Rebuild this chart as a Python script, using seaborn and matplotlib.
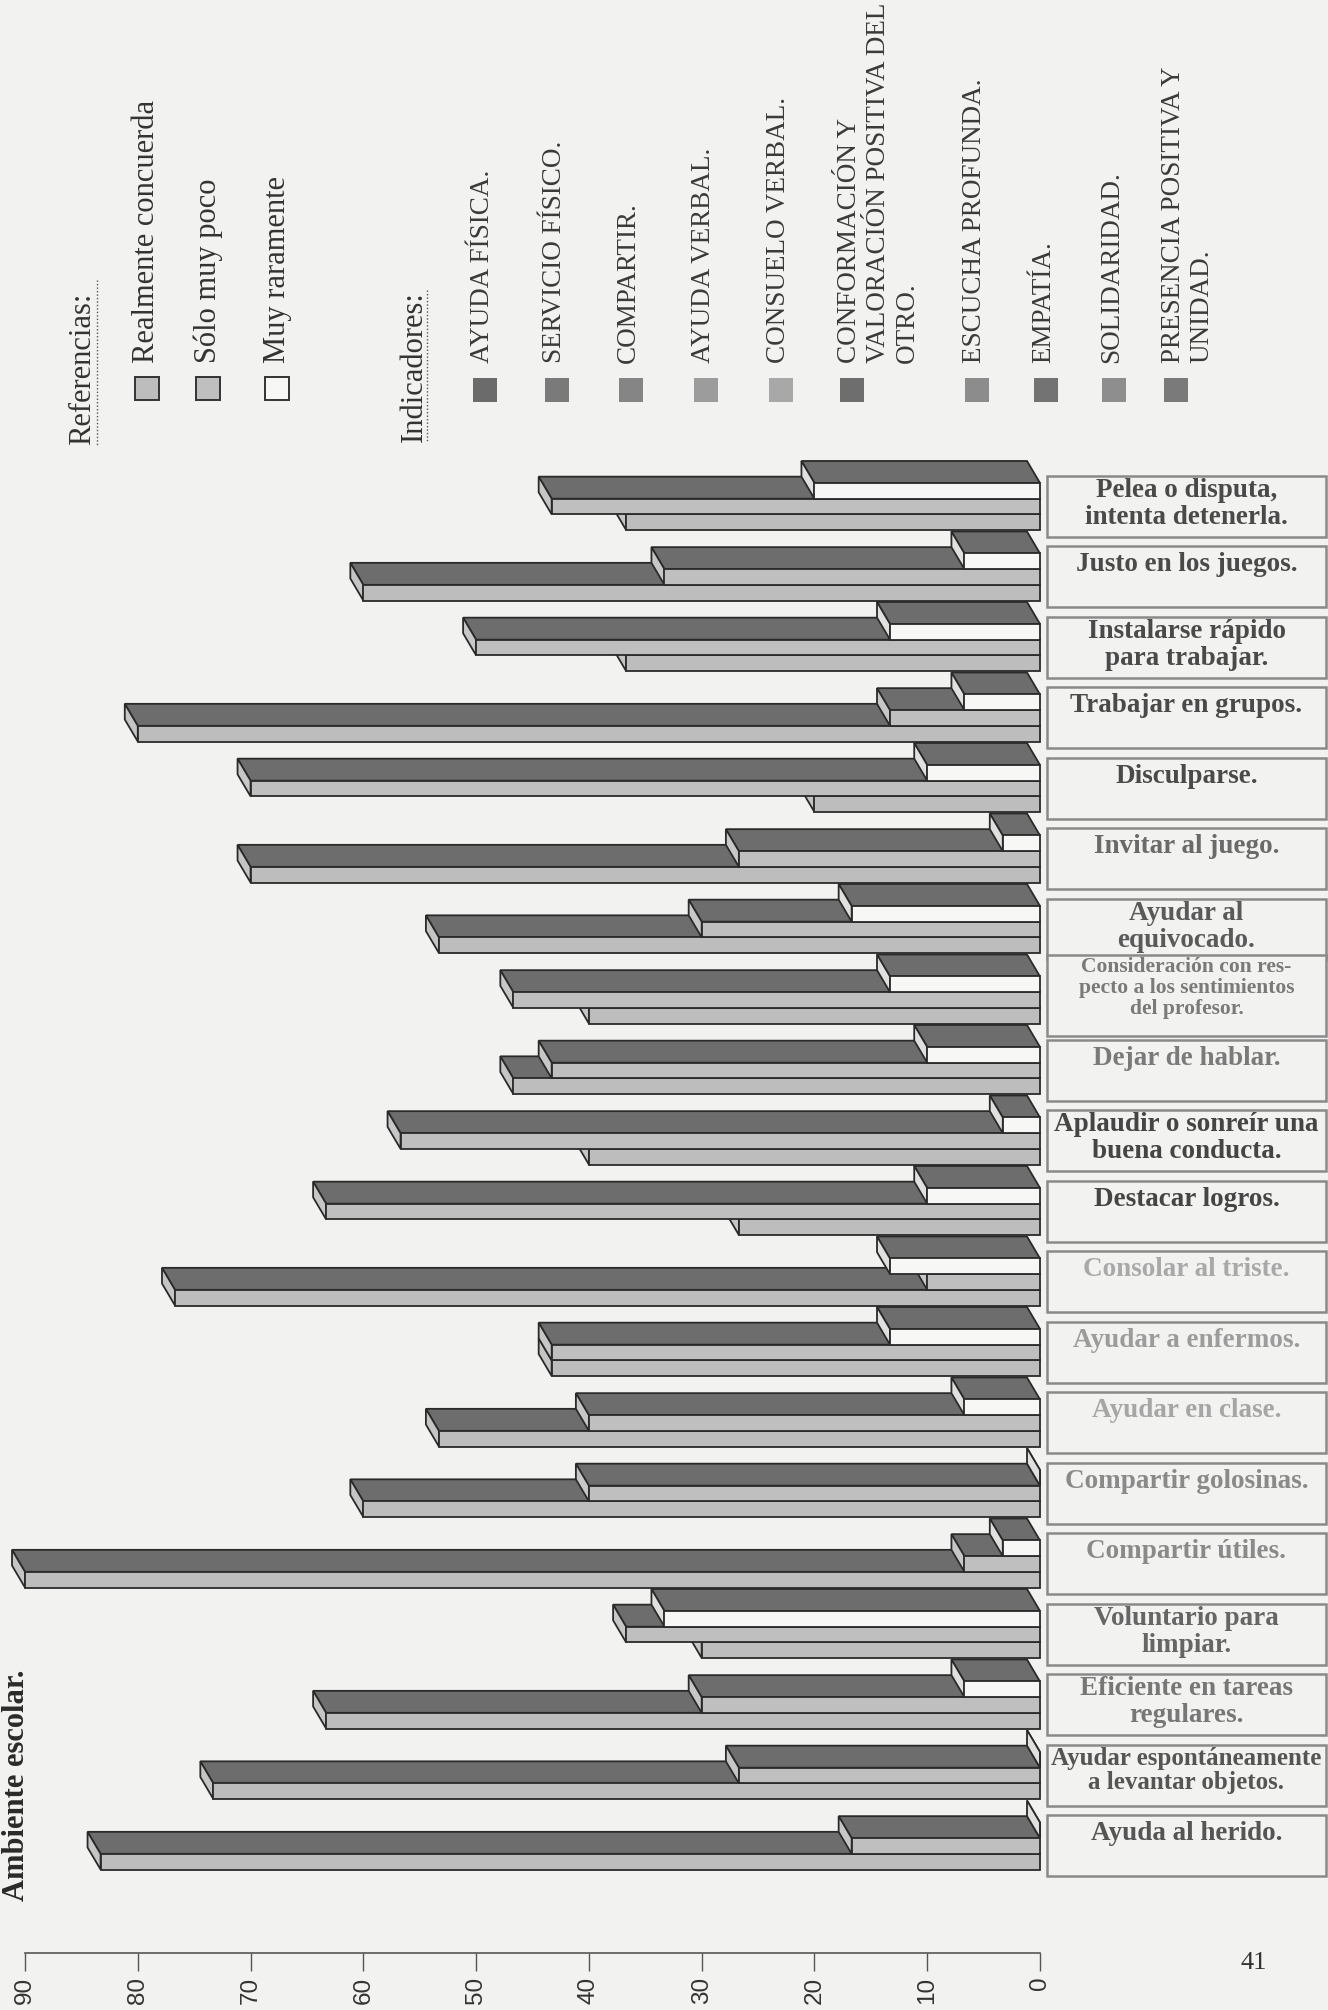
import numpy as np
import pandas as pd
import matplotlib
matplotlib.use("Agg")
import matplotlib.pyplot as plt
import seaborn as sns
from matplotlib.patches import Polygon, Rectangle
from matplotlib.lines import Line2D
import matplotlib.colors as mcolors

# ---------------- data ----------------
categorias = [
    "Pelea o disputa,\nintenta detenerla.",
    "Justo en los juegos.",
    "Instalarse rápido\npara trabajar.",
    "Trabajar en grupos.",
    "Disculparse.",
    "Invitar al juego.",
    "Ayudar al\nequivocado.",
    "Consideración con res-\npecto a los sentimientos\ndel profesor.",
    "Dejar de hablar.",
    "Aplaudir o sonreír una\nbuena conducta.",
    "Destacar logros.",
    "Consolar al triste.",
    "Ayudar a enfermos.",
    "Ayudar en clase.",
    "Compartir golosinas.",
    "Compartir útiles.",
    "Voluntario para\nlimpiar.",
    "Eficiente en tareas\nregulares.",
    "Ayudar espontáneamente\na levantar objetos.",
    "Ayuda al herido.",
]
muy_raramente = [20, 6.7, 13.3, 6.7, 10, 3.3, 16.7, 13.3, 10, 3.3,
                 10, 13.3, 13.3, 6.7, 0, 3.3, 33.3, 6.7, 0, 0]
solo_muy_poco = [43.3, 33.3, 50, 13.3, 70, 26.7, 30, 46.7, 43.3, 56.7,
                 63.3, 10, 43.3, 40, 40, 6.7, 36.7, 30, 26.7, 16.7]
realmente_concuerda = [36.7, 60, 36.7, 80, 20, 70, 53.3, 40, 46.7, 40,
                       26.7, 76.7, 43.3, 53.3, 60, 90, 30, 63.3, 73.3, 83.3]
series = ["Muy raramente", "Sólo muy poco", "Realmente concuerda"]
referencias = ["Realmente concuerda", "Sólo muy poco", "Muy raramente"]
indicadores = [
    "AYUDA FÍSICA.", "SERVICIO FÍSICO.", "COMPARTIR.", "AYUDA VERBAL.",
    "CONSUELO VERBAL.", "CONFORMACIÓN Y\nVALORACIÓN POSITIVA DEL\nOTRO.",
    "ESCUCHA PROFUNDA.", "EMPATÍA.", "SOLIDARIDAD.", "PRESENCIA POSITIVA Y\nUNIDAD.",
]
valores_eje = [0, 10, 20, 30, 40, 50, 60, 70, 80, 90]
titulo = "Ambiente escolar."
pagina = "41"

# ---------------- styles ----------------
color_texto_cat = ["#4a4a4a", "#4a4a4a", "#4a4a4a", "#4a4a4a", "#4a4a4a", "#6a6a6a",
                   "#5a5a5a", "#7a7a7a", "#7a7a7a", "#454545", "#454545", "#a9a9a9",
                   "#9c9c9c", "#a6a6a6", "#8a8a8a", "#8a8a8a", "#666666", "#777777",
                   "#555555", "#555555"]
color_indicador = ["#6b6b6b", "#7a7a7a", "#858585", "#9c9c9c", "#a8a8a8",
                   "#6e6e6e", "#8c8c8c", "#737373", "#8e8e8e", "#7a7a7a"]
color_ref = {"Realmente concuerda": "#bdbdbd", "Sólo muy poco": "#bfbfbf",
             "Muy raramente": "#f7f7f5"}

sns.set_style("white")
plt.rcParams['font.family'] = ['Liberation Serif', 'DejaVu Serif']

W, H = 1328, 2010
BG = "#f2f2f0"
fig = plt.figure(figsize=(W / 100, H / 100), dpi=100)
fig.patch.set_facecolor(BG)

# main axes: value 90 at x=25px, value 0 at x=1040px; axis line at y=1953px
ax_top_px, ax_bot_px = 440, 1953
ax = fig.add_axes([25 / W, (H - ax_bot_px) / H, 1015 / W, (ax_bot_px - ax_top_px) / H])
ax.set_facecolor("none")

df = pd.DataFrame({
    "categoria": categorias * 3,
    "serie": np.repeat(series, len(categorias)),
    "valor": muy_raramente + solo_muy_poco + realmente_concuerda,
})
WIDTH = 0.667
sns.barplot(data=df, y="categoria", x="valor", hue="serie", hue_order=series,
            order=categorias, palette=color_ref, orient="h", width=WIDTH,
            dodge=True, edgecolor="#2a2a2a", linewidth=1.3, legend=False,
            errorbar=None, saturation=1, ax=ax)

ax.set_xlim(90, 0)
cat_px = 70.5
y0_px = 506.5
ax.set_ylim((ax_bot_px - y0_px) / cat_px, (ax_top_px - y0_px) / cat_px)

# 3D depth (in data units)
dx = 13 / (1015 / 90)
dy = 22 / cat_px
TOP_COL = "#6d6d6d"

bars = list(ax.patches)
bars_sorted = sorted(bars, key=lambda p: -(p.get_y() + p.get_height() / 2))
for k, p in enumerate(bars_sorted):
    x0, w, yt, h = p.get_x(), p.get_width(), p.get_y(), p.get_height()
    v = x0 + w
    yb = yt + h
    fc = np.array(mcolors.to_rgb(p.get_facecolor()))
    side = tuple(np.clip(fc * 1.04, 0, 1)) if fc.mean() < 0.9 else (0.88, 0.88, 0.87)
    base = 3 + 3 * k
    top = Polygon([(x0, yt), (v, yt), (v + dx, yt - dy), (x0 + dx, yt - dy)],
                  closed=True, facecolor=TOP_COL, edgecolor="#2a2a2a", linewidth=1.3,
                  zorder=base, clip_on=False)
    sideface = Polygon([(v, yt), (v + dx, yt - dy), (v + dx, yb - dy), (v, yb)],
                       closed=True, facecolor=side, edgecolor="#2a2a2a", linewidth=1.3,
                       zorder=base + 1, clip_on=False)
    ax.add_patch(top)
    ax.add_patch(sideface)
    p.set_zorder(base + 2)
    p.set_clip_on(False)

for s in ["top", "right", "left"]:
    ax.spines[s].set_visible(False)
ax.spines["bottom"].set_color("#555555")
ax.spines["bottom"].set_linewidth(1.2)
ax.set_yticks([])
ax.set_xticks(valores_eje)
ax.set_xticklabels([str(v) for v in valores_eje])
ax.tick_params(axis="x", bottom=True, direction="out", length=13, width=1.0,
               color="#555555", labelsize=17.5, labelrotation=90, pad=4,
               labelcolor="#333333")
for lbl in ax.get_xticklabels():
    lbl.set_fontfamily(["Liberation Sans", "DejaVu Sans"])
ax.set_xlabel("")
ax.set_ylabel("")

# ---------------- overlay in pixel coordinates ----------------
ov = fig.add_axes([0, 0, 1, 1])
ov.set_xlim(0, W)
ov.set_ylim(H, 0)
ov.axis("off")
ov.set_facecolor("none")
renderer = fig.canvas.get_renderer()

def px_from_data_y(yd):
    return H - ax.transData.transform((0, yd))[1]

for i, (lab, col) in enumerate(zip(categorias, color_texto_cat)):
    ft = px_from_data_y(i - WIDTH / 2)
    nlines = lab.count("\n") + 1
    if nlines >= 3:
        btop, bh, fs, off, ls = ft - 21, 81, 15.5, 2, 1.05
    elif nlines == 2:
        btop, bh, fs, off, ls = ft - 7, 61, 19.5, 2, 1.08
    else:
        btop, bh, fs, off, ls = ft - 7, 61, 19.5, 6, 1.08
    ov.add_patch(Rectangle((1047, btop), 279, bh, facecolor=BG, edgecolor="#8a8a8a",
                           linewidth=1.8, zorder=2))
    t = ov.text(1186.5, btop + off, lab, ha="center", va="top", fontsize=fs,
                fontweight="bold", color=col, linespacing=ls, zorder=3)
    while t.get_window_extent(renderer).width > 272 and fs > 8:
        fs -= 0.25
        t.set_fontsize(fs)

# legend: Referencias
ov.text(83, 445, "Referencias:", rotation=90, ha="center", va="bottom",
        fontsize=22, color="#333333")
ov.add_line(Line2D([97, 97], [280, 445], linestyle=(0, (1, 1.5)), color="#555555",
                   linewidth=1.0))
ref_x = [147, 208, 277]
for cx, name in zip(ref_x, referencias):
    ov.add_patch(Rectangle((cx - 12, 377), 24, 23, facecolor=color_ref[name],
                           edgecolor="#333333", linewidth=1.4))
    ov.text(cx, 363, name, rotation=90, ha="center", va="bottom", fontsize=22,
            color="#333333")

# legend: Indicadores
ov.text(414, 442, "Indicadores:", rotation=90, ha="center", va="bottom",
        fontsize=22, color="#333333")
ov.add_line(Line2D([427, 427], [290, 442], linestyle=(0, (1, 1.5)), color="#555555",
                   linewidth=1.0))
ind_x = [485, 557, 631, 706, 781, 852, 977, 1046, 1114, 1176]
for cx, name, col in zip(ind_x, indicadores, color_indicador):
    ov.add_patch(Rectangle((cx - 12, 378), 24, 24, facecolor=col, edgecolor="none"))
    ov.text(cx - 15, 363, name, rotation=90, ha="left", va="bottom", fontsize=19.5,
            color="#3a3a3a", multialignment="left", linespacing=1.2)

# title and page number
ov.text(17, 1785, titulo, rotation=90, ha="center", va="center", fontsize=22,
        fontweight="bold", color="#2a2a2a")
ov.text(1254, 1963, pagina, ha="center", va="center", fontsize=19, color="#333333")

fig.savefig("out.png", dpi=100, facecolor=BG)
